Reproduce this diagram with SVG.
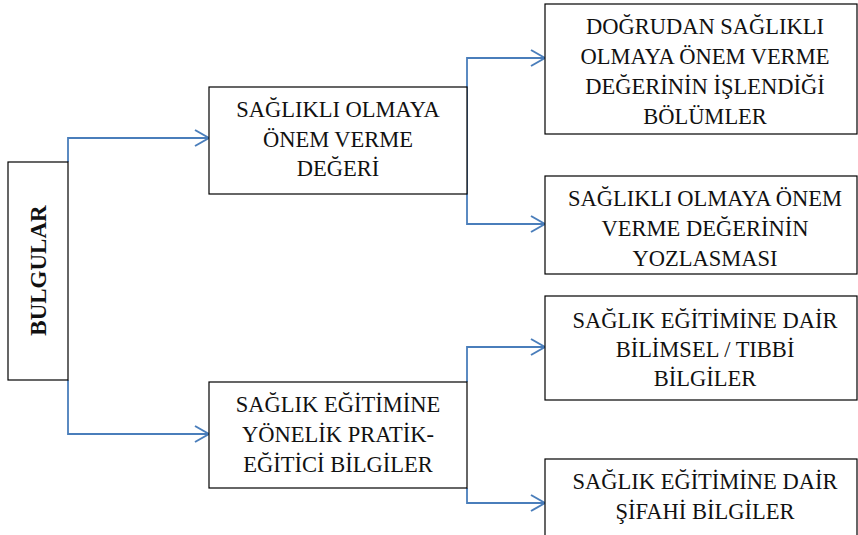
<svg xmlns="http://www.w3.org/2000/svg" width="858" height="535" viewBox="0 0 858 535">
<defs>
<style>
.box{fill:#fff;stroke:#000;stroke-width:1.2}
.t{font-family:"Liberation Serif","Times New Roman",serif;font-size:22.5px;fill:#111;text-anchor:middle}
.b{font-weight:bold;font-size:23px}
.c{fill:none;stroke:#4a7ebb;stroke-width:1.8}
</style>
<marker id="arr" markerUnits="userSpaceOnUse" viewBox="0 0 16 18" refX="15" refY="9" markerWidth="16" markerHeight="18" orient="auto">
<path d="M1,1 L15,9 L1,17" fill="none" stroke="#4a7ebb" stroke-width="2"/>
</marker>
</defs>
<rect width="858" height="535" fill="#fff"/>
<g id="connectors">
<path class="c" d="M68,162 V138 H209" marker-end="url(#arr)"/>
<path class="c" d="M68,380 V434 H209" marker-end="url(#arr)"/>
<path class="c" d="M467,194 V58 H545" marker-end="url(#arr)"/>
<path class="c" d="M467,194 V224 H545" marker-end="url(#arr)"/>
<path class="c" d="M467,382 V347 H545" marker-end="url(#arr)"/>
<path class="c" d="M467,488 V503 H545" marker-end="url(#arr)"/>
</g>
<g id="bulgular">
<rect class="box" x="8" y="162" width="60" height="218"/>
<text class="t b" transform="translate(46,270.5) rotate(-90)" x="0" y="0">BULGULAR</text>
</g>
<g id="saglikli">
<rect class="box" x="209" y="87" width="258" height="107"/>
<text class="t" x="338" y="117">SAĞLIKLI OLMAYA</text>
<text class="t" x="338" y="147">ÖNEM VERME</text>
<text class="t" x="338" y="176">DEĞERİ</text>
</g>
<g id="dogrudan">
<rect class="box" x="545" y="4" width="312" height="130"/>
<text class="t" x="705" y="34">DOĞRUDAN SAĞLIKLI</text>
<text class="t" x="705" y="64">OLMAYA ÖNEM VERME</text>
<text class="t" x="705" y="94">DEĞERİNİN İŞLENDİĞİ</text>
<text class="t" x="705" y="124">BÖLÜMLER</text>
</g>
<g id="yozlasma">
<rect class="box" x="545" y="176" width="312" height="98"/>
<text class="t" x="705" y="206">SAĞLIKLI OLMAYA ÖNEM</text>
<text class="t" x="705" y="236">VERME DEĞERİNİN</text>
<text class="t" x="705" y="266">YOZLASMASI</text>
</g>
<g id="egitim">
<rect class="box" x="209" y="382" width="258" height="106"/>
<text class="t" x="338" y="412">SAĞLIK EĞİTİMİNE</text>
<text class="t" x="338" y="442">YÖNELİK PRATİK-</text>
<text class="t" x="338" y="472">EĞİTİCİ BİLGİLER</text>
</g>
<g id="bilimsel">
<rect class="box" x="545" y="296" width="312" height="104"/>
<text class="t" x="705" y="328">SAĞLIK EĞİTİMİNE DAİR</text>
<text class="t" x="705" y="357">BİLİMSEL / TIBBİ</text>
<text class="t" x="705" y="386">BİLGİLER</text>
</g>
<g id="sifahi">
<rect class="box" x="545" y="459" width="312" height="90"/>
<text class="t" x="705" y="489">SAĞLIK EĞİTİMİNE DAİR</text>
<text class="t" x="705" y="519">ŞİFAHİ BİLGİLER</text>
</g>
</svg>
